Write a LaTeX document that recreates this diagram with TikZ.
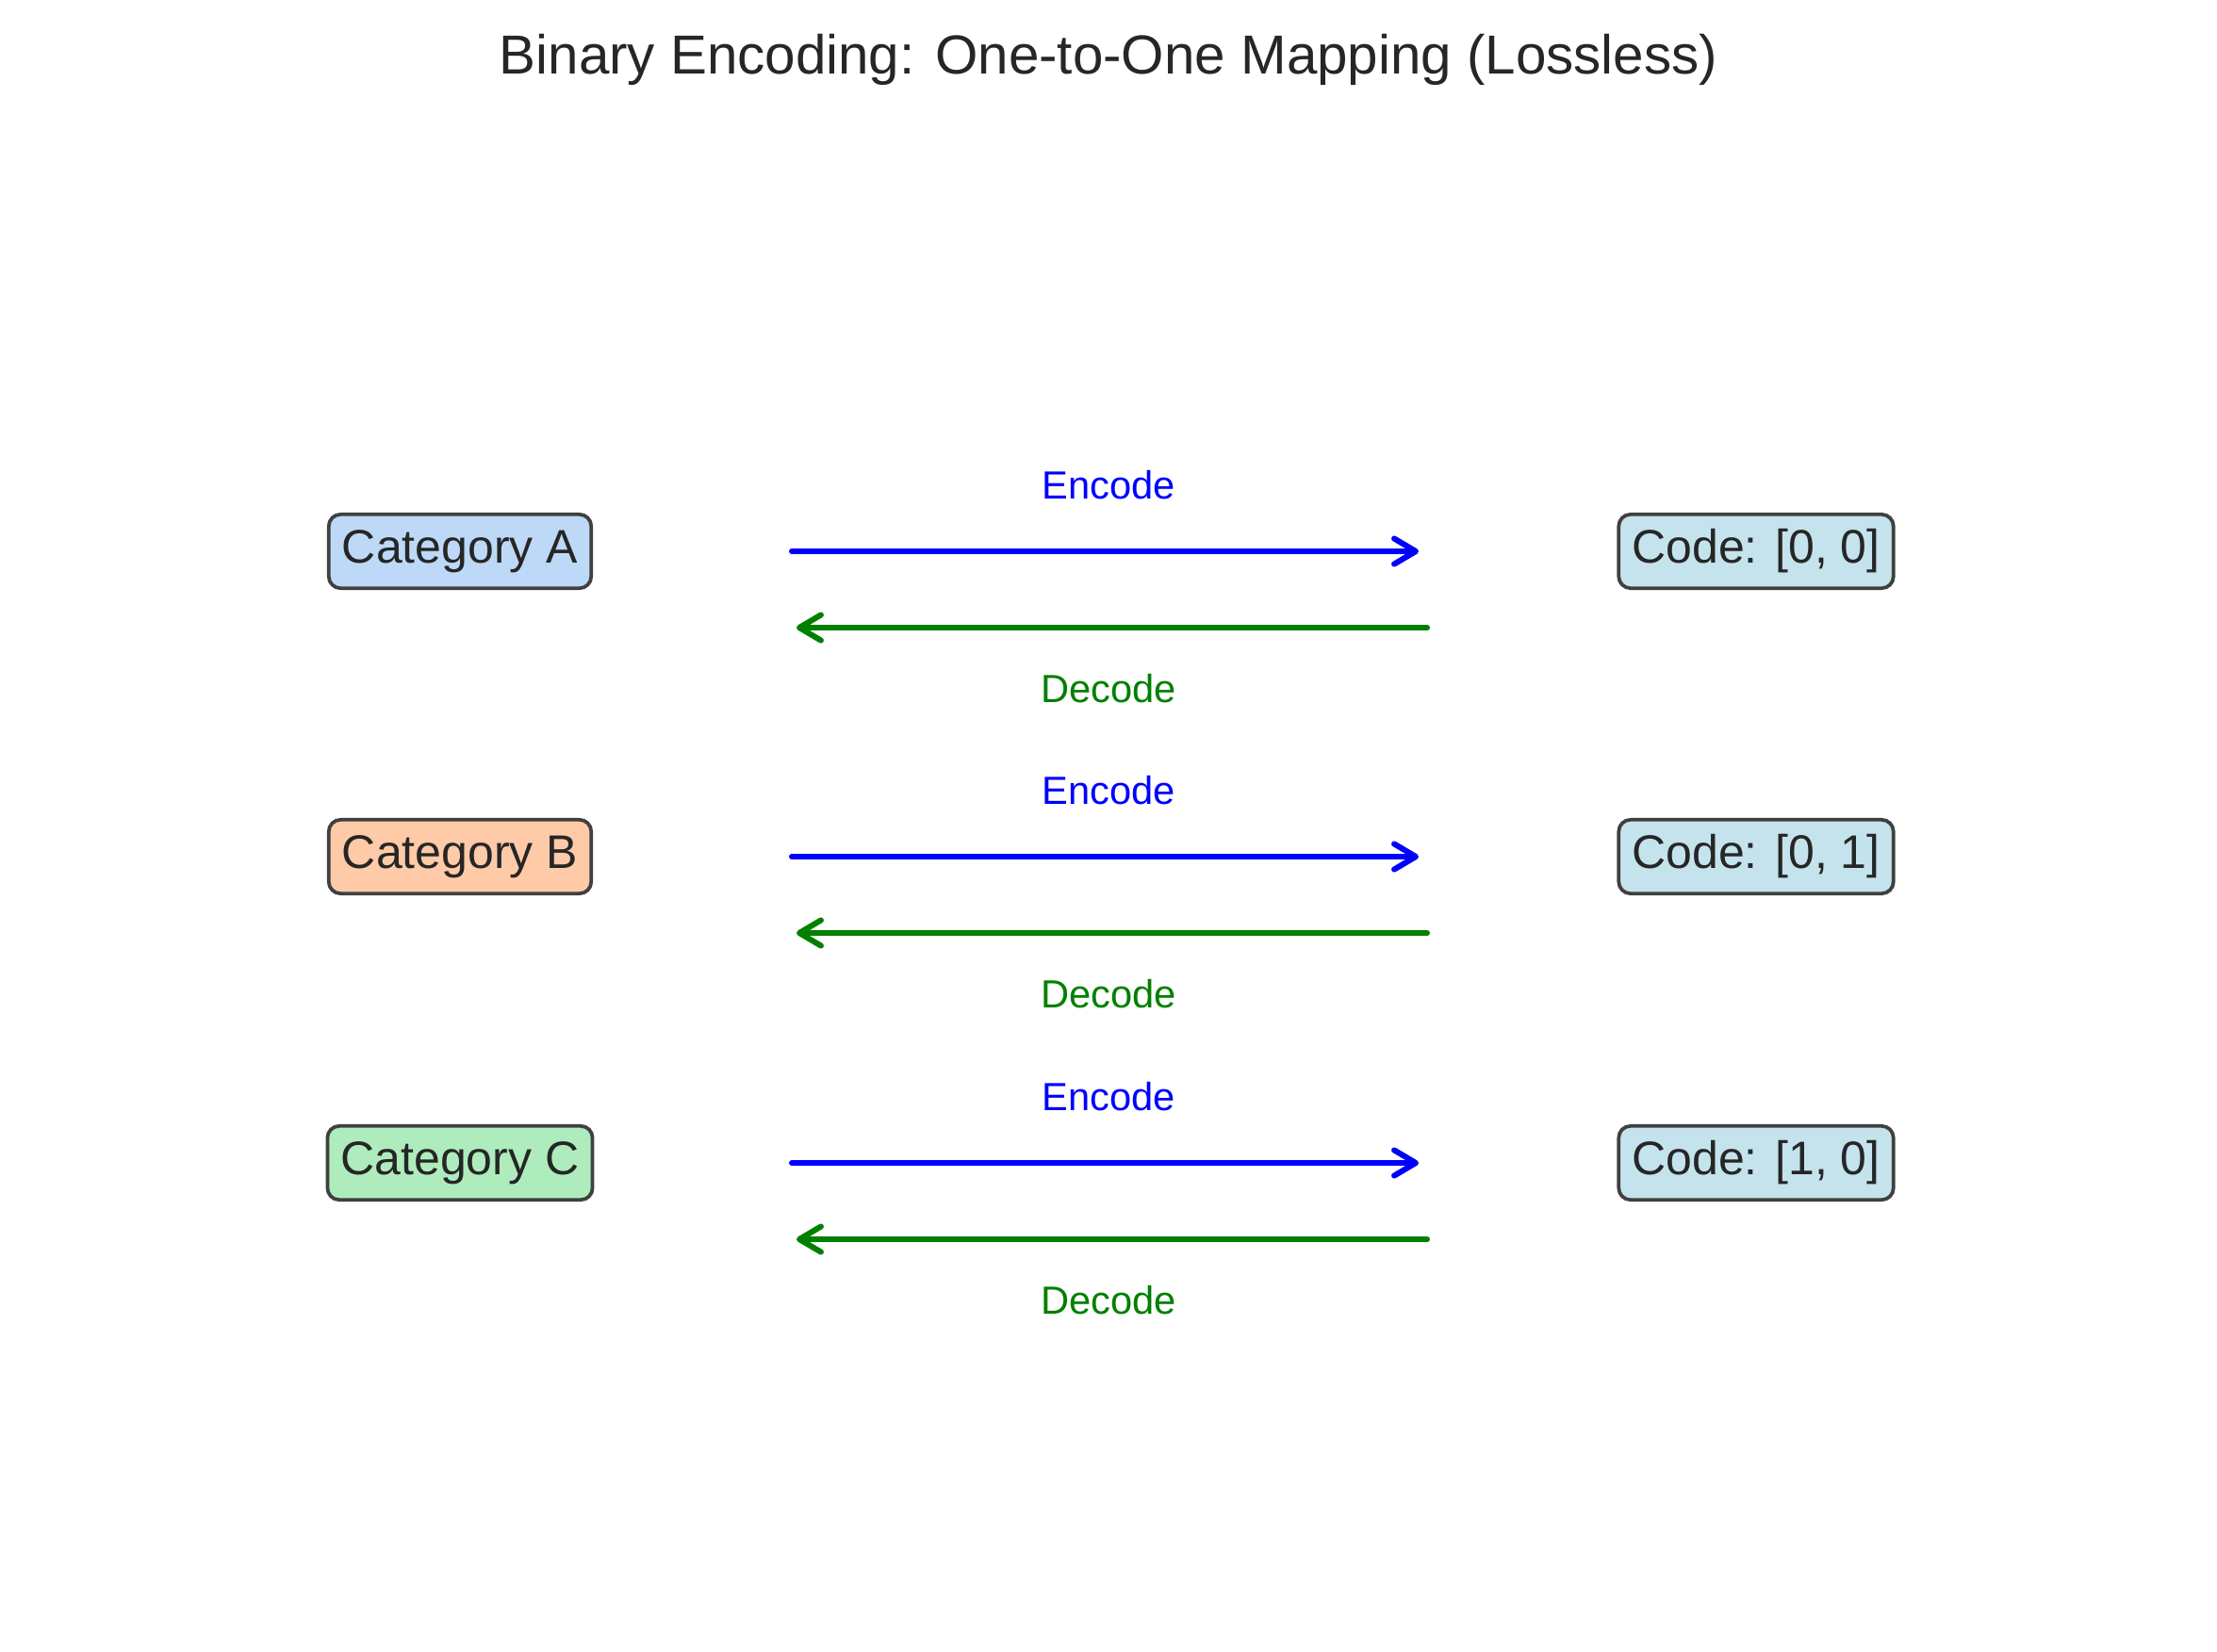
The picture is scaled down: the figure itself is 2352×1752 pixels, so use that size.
\documentclass[tikz,border=0pt]{standalone}
\usepackage{fontspec}
\setmainfont{Liberation Sans}
\usepackage{xcolor}
\usepackage{tikz}
\usetikzlibrary{arrows.meta, positioning}
\definecolor{textdark}{HTML}{262626}
\definecolor{boxline}{HTML}{404040}
\definecolor{catA}{HTML}{BDD9F7}
\definecolor{catB}{HTML}{FFCAA7}
\definecolor{catC}{HTML}{AFECBD}
\definecolor{codefill}{HTML}{C5E3ED}
\definecolor{decgreen}{HTML}{008000}
\tikzstyle{box} = [draw=boxline, line width=0.9pt, rounded corners=3pt, inner xsep=3.4pt, inner ysep=3.4pt, text height=9pt, text depth=3pt, font=\fontsize{12}{14}\selectfont, text=textdark]
\tikzstyle{encarrow} = [line width=1.45pt, draw=blue, line cap=round, -{Straight Barb[length=5.5pt, width=6.5pt, line join=round, line cap=round]}]
\tikzstyle{decarrow} = [line width=1.45pt, draw=decgreen, line cap=round, -{Straight Barb[length=5.5pt, width=6.5pt, line join=round, line cap=round]}]
\tikzstyle{enclabel} = [anchor=base, inner sep=0pt, text=blue, font=\fontsize{10}{12}\selectfont]
\tikzstyle{declabel} = [anchor=base, inner sep=0pt, text=decgreen, font=\fontsize{10}{12}\selectfont]

\begin{document}
\begin{tikzpicture}[x=0.24pt, y=-0.24pt]
              \useasboundingbox (0,0) rectangle (2352,1752);

              \node[anchor=base, inner sep=0pt, text=textdark, font=\fontsize{14}{17}\selectfont] (title) at (1176,78) {Binary Encoding: One-to-One Mapping (Lossless)};

              \node[box, fill=catA] (cat-a) at (488,585) {Category A};
              \node[box, fill=catB] (cat-b) at (488,909) {Category B};
              \node[box, fill=catC] (cat-c) at (488,1234) {Category C};

              \node[box, fill=codefill] (code-a) at (1863,585) {Code: [0, 0]};
              \node[box, fill=codefill] (code-b) at (1863,909) {Code: [0, 1]};
              \node[box, fill=codefill] (code-c) at (1863,1234) {Code: [1, 0]};

              \coordinate (enc-a-from) at (840,585);
              \coordinate (enc-a-to) at (1505,585);
              \coordinate (dec-a-from) at (1514,666);
              \coordinate (dec-a-to) at (845,666);
              \coordinate (enc-b-from) at (840,909);
              \coordinate (enc-b-to) at (1505,909);
              \coordinate (dec-b-from) at (1514,990);
              \coordinate (dec-b-to) at (845,990);
              \coordinate (enc-c-from) at (840,1234);
              \coordinate (enc-c-to) at (1505,1234);
              \coordinate (dec-c-from) at (1514,1315);
              \coordinate (dec-c-to) at (845,1315);

              \draw[encarrow] (enc-a-from) -- (enc-a-to);
              \draw[decarrow] (dec-a-from) -- (dec-a-to);
              \draw[encarrow] (enc-b-from) -- (enc-b-to);
              \draw[decarrow] (dec-b-from) -- (dec-b-to);
              \draw[encarrow] (enc-c-from) -- (enc-c-to);
              \draw[decarrow] (dec-c-from) -- (dec-c-to);

              \node[enclabel] (enc-a-label) at (1176,529) {Encode};
              \node[declabel] (dec-a-label) at (1176,745) {Decode};
              \node[enclabel] (enc-b-label) at (1176,853) {Encode};
              \node[declabel] (dec-b-label) at (1176,1069) {Decode};
              \node[enclabel] (enc-c-label) at (1176,1178) {Encode};
              \node[declabel] (dec-c-label) at (1176,1394) {Decode};

          \end{tikzpicture}
\end{document}
